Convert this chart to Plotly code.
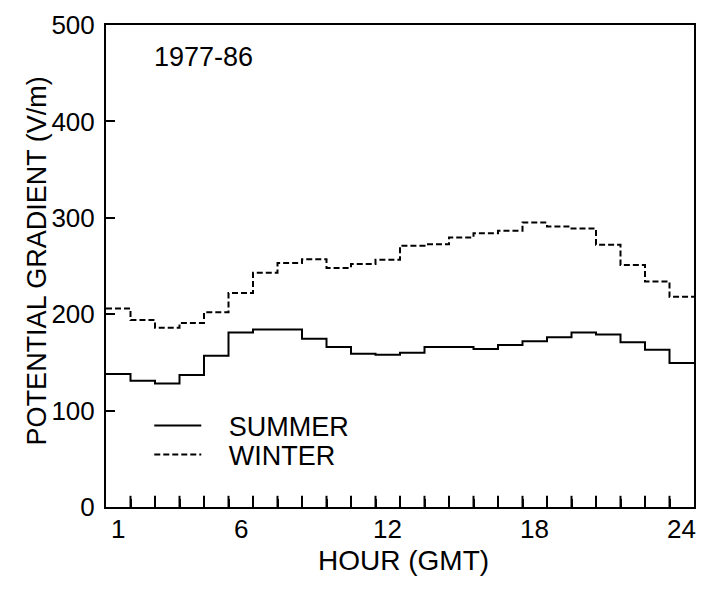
import plotly.graph_objects as go

hours = list(range(1, 25))
summer = [138, 131, 128, 137, 157, 181, 184, 184, 174.5, 166, 159, 158,
          160, 166, 166, 164, 168, 172, 176, 181, 179, 171, 163, 149.5]
winter = [206, 194, 186, 191, 202, 222, 243, 253, 257, 248, 252, 256.5,
          271, 272.5, 279.5, 284, 286.5, 295, 291, 289, 272, 251, 234, 218]
x_tick_labels = [1, 6, 12, 18, 24]
y_ticks = [0, 100, 200, 300, 400, 500]
period_label = "1977-86"

FONT = "Liberation Sans, Arial, sans-serif"
PAD = "\u00a0\u00a0\u00a0"


def step_xy(h, v):
    # each hourly value spans the hour interval (h-1, h)
    x = [hh - 1 for hh in h] + [h[-1]]
    y = list(v) + [v[-1]]
    return x, y


fig = go.Figure()
xs, ys = step_xy(hours, summer)
fig.add_trace(go.Scatter(x=xs, y=ys, mode="lines", name=PAD + "SUMMER",
                         line=dict(color="black", width=2, shape="hv"),
                         legend="legend", showlegend=True))
xw, yw = step_xy(hours, winter)
fig.add_trace(go.Scatter(x=xw, y=yw, mode="lines", name=PAD + "WINTER",
                         line=dict(color="black", width=2, shape="hv", dash="6px,3px"),
                         legend="legend2", showlegend=True))

# inward tick marks at the hour boundaries on the bottom axis
# (vertical line markers centred on the axis; lower half is clipped)
boundaries = hours[:-1]
fig.add_trace(go.Scatter(x=boundaries, y=[y_ticks[0]] * len(boundaries),
                         mode="markers", showlegend=False, hoverinfo="skip",
                         cliponaxis=True,
                         marker=dict(symbol="line-ns", size=16, color="black",
                                     line=dict(width=2, color="black"))))

axis_common = dict(showline=True, linecolor="black", linewidth=2, mirror=True,
                   showgrid=False, zeroline=False,
                   tickfont=dict(family=FONT, size=26, color="black"))

# hour labels sit at the centre of each labelled hour bin
hour_label_annots = [
    dict(text=str(h), xref="x", yref="paper", x=h - 0.5, y=0,
         xanchor="center", yanchor="middle", yshift=-22, showarrow=False,
         font=dict(family=FONT, size=26, color="black"))
    for h in x_tick_labels
]

fig.update_layout(
    width=706, height=589,
    showlegend=True,
    margin=dict(l=106, r=10, t=18, b=82),
    paper_bgcolor="white", plot_bgcolor="white",
    font=dict(family=FONT, color="black"),
    xaxis=dict(range=[0, 24],
               tickmode="array", tickvals=boundaries,
               ticks="inside", ticklen=8, tickwidth=2, tickcolor="black",
               showticklabels=False,
               **axis_common),
    yaxis=dict(range=[0, 500], tickmode="array", tickvals=y_ticks,
               ticks="inside", ticklen=9, tickwidth=2, tickcolor="black",
               ticklabelstandoff=4,
               **axis_common),
    legend=dict(x=0.0736, y=0.168, xanchor="left", yanchor="middle",
                bgcolor="rgba(0,0,0,0)", itemwidth=47,
                font=dict(family=FONT, size=27, color="black")),
    legend2=dict(x=0.0736, y=0.108, xanchor="left", yanchor="middle",
                 bgcolor="rgba(0,0,0,0)", itemwidth=47,
                 font=dict(family=FONT, size=27, color="black")),
    annotations=hour_label_annots + [
        dict(text=period_label, xref="paper", yref="paper", x=0.078, y=0.934,
             xanchor="left", yanchor="middle", showarrow=False,
             font=dict(family=FONT, size=27, color="black")),
        dict(text="HOUR (GMT)", xref="paper", yref="paper", x=0.506, y=-0.11,
             xanchor="center", yanchor="middle", showarrow=False,
             font=dict(family=FONT, size=28, color="black")),
        dict(text="POTENTIAL GRADIENT (V/m)", xref="paper", yref="paper",
             x=-0.117, y=0.51, xanchor="center", yanchor="middle", textangle=-90,
             showarrow=False, font=dict(family=FONT, size=27, color="black")),
    ],
)

fig.write_html("out.html")
